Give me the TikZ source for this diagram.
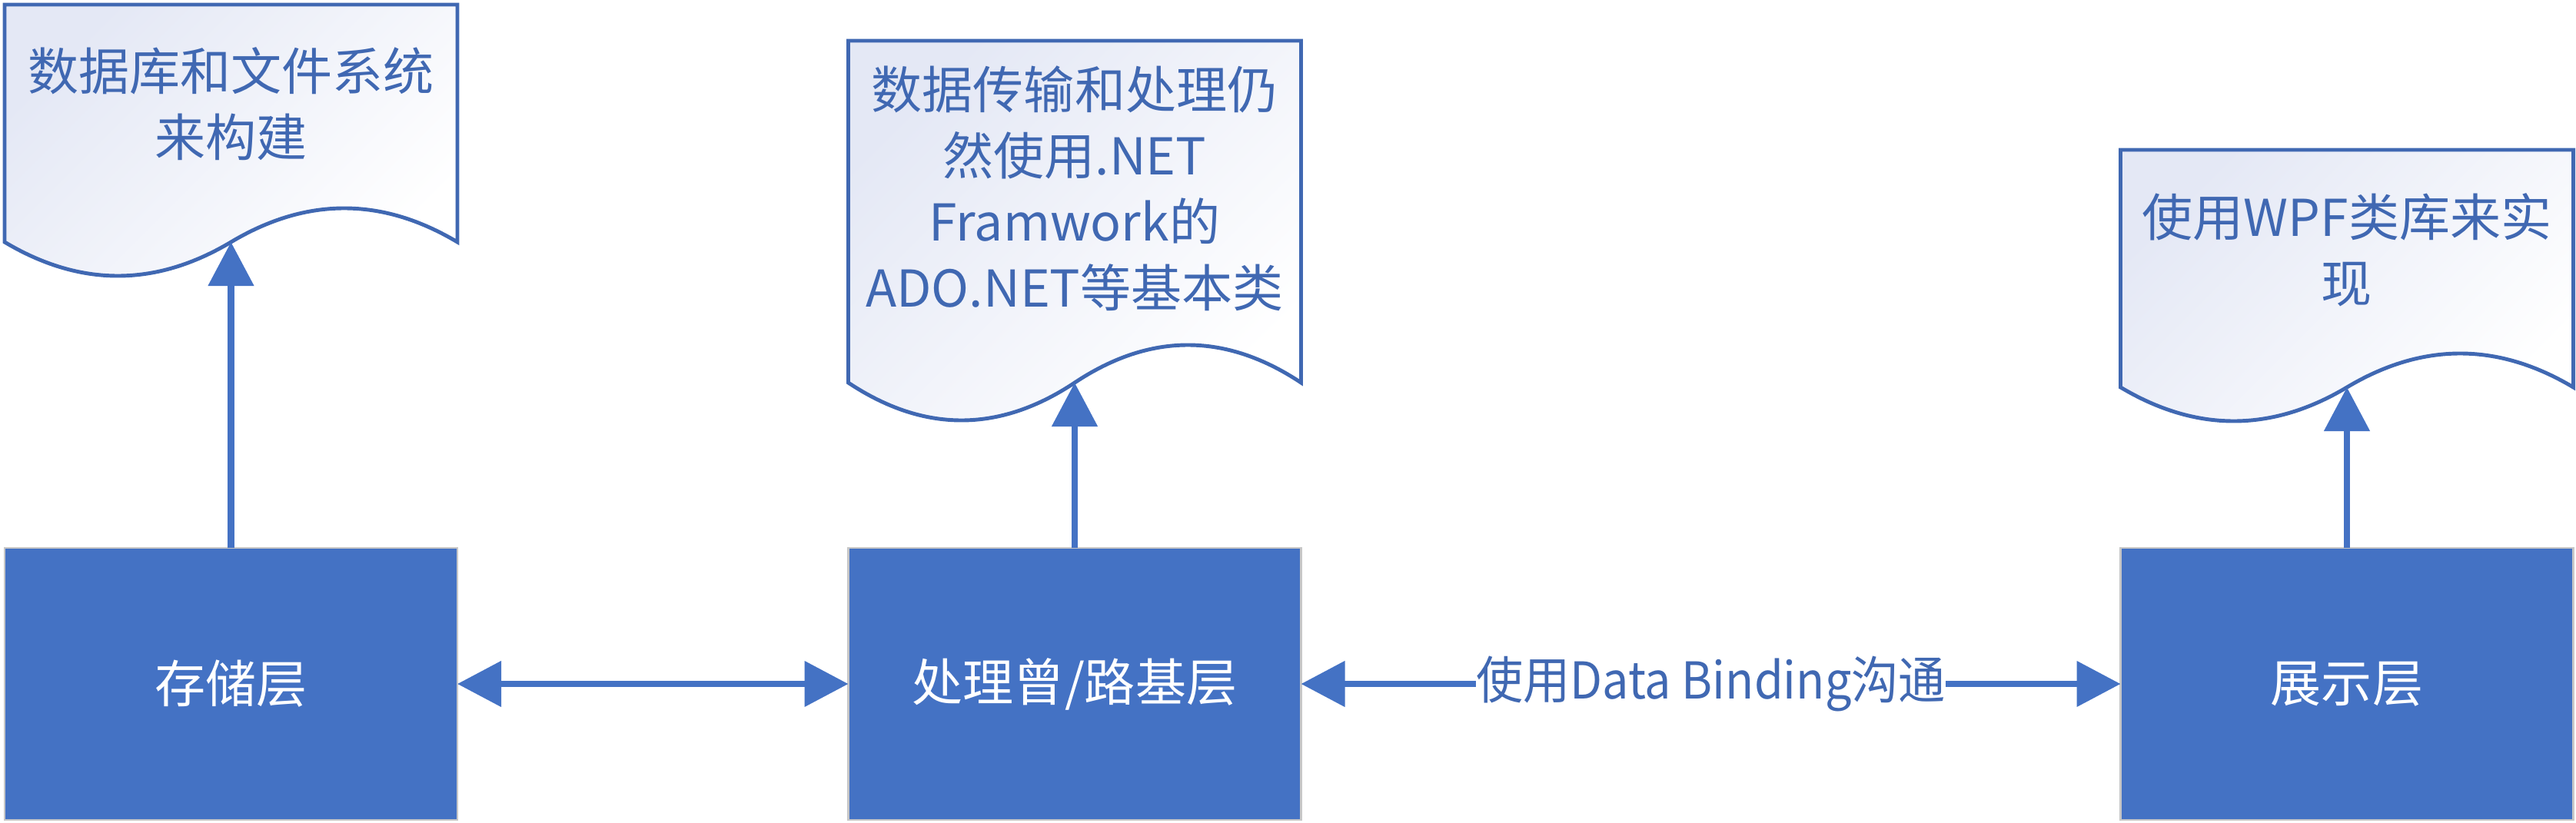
\documentclass[tikz,border=0pt]{standalone}
\usepackage{fontspec}
\usepackage{graphicx}
\setmainfont{Noto Sans CJK SC}
\usetikzlibrary{arrows.meta,positioning}
\definecolor{layerblue}{HTML}{4472C4}
\definecolor{noteblue}{HTML}{4068B2}
\definecolor{noteshade}{HTML}{E4E8F5}
\tikzset{layer box/.style={rectangle,draw=black!22,line width=0.6pt,fill=layerblue,text=white,minimum width=5.89cm,minimum height=3.54cm,inner sep=0pt,outer sep=0pt},
  note shape/.style={draw=noteblue,line width=1.4pt,top color=noteshade,bottom color=white,shading angle=45},
  note text/.style={text=noteblue,align=center},
  link/.style={layerblue,line width=2.3pt,-{Triangle[width=0.58cm,length=0.57cm]}},
  both link/.style={layerblue,line width=2.3pt,{Triangle[width=0.58cm,length=0.57cm]}-{Triangle[width=0.58cm,length=0.57cm]}},
  link label/.style={fill=white,text=noteblue,inner sep=0pt}}

\begin{document}
\begin{tikzpicture}[font=\fontsize{18.8pt}{24.5pt}\selectfont]
        \useasboundingbox (0,0) rectangle (33.51,10.70);

        % document shapes with the wavy bottom
        \foreach \nm/\cx/\ty/\my/\am in {dbnote/3.005/10.64/7.55/0.44, netnote/13.98/10.17/5.72/0.49, wpfnote/30.53/8.75/5.66/0.44}{
                \draw[note shape] (\cx-2.945,\my) -- (\cx-2.945,\ty) -- (\cx+2.945,\ty) -- (\cx+2.945,\my)
                        .. controls (\cx+1.963,\my+4/3*\am) and (\cx+0.982,\my+4/3*\am) .. (\cx,\my) coordinate (\nm)
                        .. controls (\cx-0.982,\my-4/3*\am) and (\cx-1.963,\my-4/3*\am) .. (\cx-2.945,\my) -- cycle;
        }

        \node[note text] (dbtext) at (3.005,9.35) {数据库和文件系统\\来构建};
        \node[note text] (nettext) at (13.98,8.245) {数据传输和处理仍\\然使用.NET\\Framwork的\\ADO.NET等基本类};
        \node[note text] (wpftext) at (30.53,7.445) {使用WPF类库来实\\现};

        % the three layers
        \node[layer box] (store) at (3.005,1.80) {存储层};
        \node[layer box] (logic) at (13.98,1.80) {处理曾/路基层};
        \node[layer box] (show) at (30.53,1.80) {展示层};

        \draw[both link] (store.east) -- (logic.west);
        \draw[both link] (logic.east) -- node[link label] {\scalebox{0.925}[1]{使用Data Binding沟通}} (show.west);

        \draw[link] (store.north) -- (dbnote);
        \draw[link] (logic.north) -- (netnote);
        \draw[link] (show.north) -- (wpfnote);
\end{tikzpicture}
\end{document}
